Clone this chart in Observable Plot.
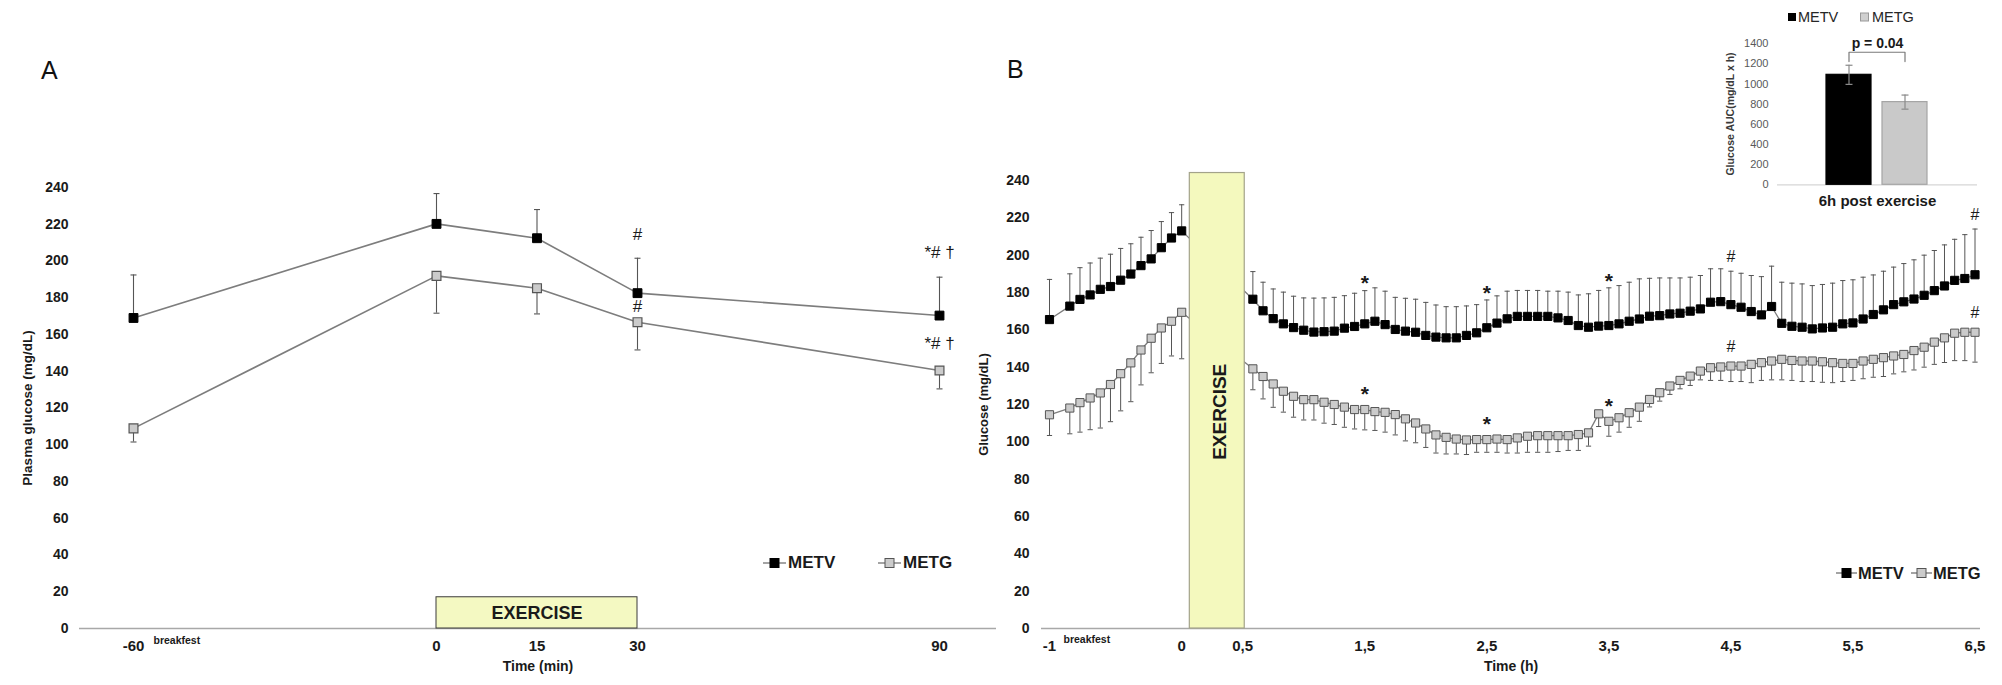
<!DOCTYPE html>
<html>
<head>
<meta charset="utf-8">
<script src="https://cdn.jsdelivr.net/npm/d3@7"></script>
<script src="https://cdn.jsdelivr.net/npm/@observablehq/plot@0.6"></script>
<style>
html,body{margin:0;padding:0;background:#fff;}
#root{position:relative;width:2002px;height:685px;overflow:hidden;background:#fff;font-family:"Liberation Sans",Arial,sans-serif;}
#root svg{overflow:visible;}
.lg{position:absolute;display:flex;align-items:center;height:18px;white-space:nowrap;}
.panel{position:absolute;font-size:25px;line-height:25px;color:#111;}
</style>
</head>
<body>
<div id="root"></div>
<script>
// ---------------- Panel A data (plasma glucose, mg/dL) ----------------
const timeA = [-60, 0, 15, 30, 90];
const timeALabels = ["-60", "0", "15", "30", "90"];
const metvA = [169, 220.2, 212.4, 182.5, 170.3];
const metvSdA = [23.4, 16.5, 15.6, 19, 20.9];
const metgA = [108.9, 191.9, 185.2, 166.7, 140.4];
const metgSdA = [7.4, 20.3, 14, 15.1, 10];
const glucoseTicks = [0, 20, 40, 60, 80, 100, 120, 140, 160, 180, 200, 220, 240];
const annA = [
  {series: "METV", t: 30, text: "#"},
  {series: "METG", t: 30, text: "#"},
  {series: "METV", t: 90, text: "*# †"},
  {series: "METG", t: 90, text: "*# †"}
];
const exerciseA = [{x1: 0, x2: 30, y1: 0, y2: 17, label: "EXERCISE"}];

// ---------------- Panel B data (CGM glucose, every 5 min) ----------------
const timeB = [-60, -55, -50, -45, -40, -35, -30, -25, -20, -15, -10, -5, 0,
  35, 40, 45, 50, 55, 60, 65, 70, 75, 80,
  85, 90, 95, 100, 105, 110, 115, 120, 125, 130,
  135, 140, 145, 150, 155, 160, 165, 170, 175, 180,
  185, 190, 195, 200, 205, 210, 215, 220, 225, 230,
  235, 240, 245, 250, 255, 260, 265, 270, 275, 280,
  285, 290, 295, 300, 305, 310, 315, 320, 325, 330,
  335, 340, 345, 350, 355, 360, 365, 370, 375, 380,
  385, 390];
const metvB = [165.5, 172.7, 176.3, 178.7, 181.7, 183.2, 186.6, 189.9, 194.4, 198, 204, 209.2, 213,
  176.4, 170.2, 166, 163.2, 161.2, 159.8, 158.8, 159, 159.3, 160.9,
  161.8, 163.2, 164.6, 162.8, 160.2, 159.3, 158.7, 157, 156.1, 155.7,
  155.7, 157, 158.4, 161.1, 163.6, 165.9, 167.2, 167.2, 167.2, 167.2,
  166.4, 165, 162.3, 161.4, 162, 162.3, 163.2, 164.6, 165.8, 167.3,
  167.6, 168.5, 168.9, 170, 171.2, 174.8, 175.1, 173.5, 172.1, 169.8,
  168, 172.5, 163.5, 161.9, 161.4, 160.5, 161, 161.4, 163.2, 163.7,
  165.8, 168.2, 170.7, 173.5, 175, 176.5, 178.5, 181, 183.5, 186.5,
  187.5, 189.5];
const metvSdB = [21.5, 17.3, 17, 17.1, 16.7, 17.3, 17, 16.2, 15.2, 15.2, 14, 13.6, 14,
  14.8, 15.3, 15.9, 17, 16.8, 17.3, 18.2, 18.1, 18.1, 17.4,
  17.8, 17.8, 17.9, 17.9, 17.2, 17.6, 17.7, 17.7, 17.2, 16.7,
  16.7, 15.8, 15.1, 14.9, 14.6, 14.8, 13.9, 13.9, 13.9, 13.5,
  14.3, 15.2, 16.4, 17.9, 19.1, 20.2, 20.5, 20.9, 21.5, 20.3,
  20.2, 19.3, 18.9, 18.2, 17.9, 17.9, 17.6, 17.9, 18.2, 19.3,
  20.5, 21.6, 22, 23.1, 23.2, 23.2, 23.3, 23.6, 23.2, 23.1,
  22.4, 21.2, 20.7, 20.1, 20.5, 21, 21.5, 21.5, 22, 22,
  23.5, 24.5];
const metgB = [114.5, 118.1, 121, 123.5, 126.2, 130.7, 136.5, 142.3, 149.2, 155.5, 161, 164.6, 169.4,
  139.1, 135, 131, 127.1, 124.4, 122.6, 122.6, 121.2, 120, 118.6,
  117.3, 117.3, 116.2, 115.8, 114.6, 112.3, 110.1, 106.9, 103.7, 102.4,
  101.5, 101, 101.2, 101.2, 101.5, 101.2, 102.1, 103, 103.3, 103.3,
  103.3, 103.3, 103.9, 104.8, 115, 111, 112.9, 115.6, 118.6, 122.7,
  126.3, 129.9, 132.9, 135.2, 137.9, 139.7, 140.1, 140.6, 140.6, 141.5,
  142.4, 143.3, 144.2, 143.6, 143.3, 143.3, 142.9, 142.4, 142, 142,
  143.3, 144.2, 145.1, 146, 146.8, 148.9, 150.7, 153.4, 155.7, 158.2,
  158.7, 158.7];
const metgSdB = [11.1, 13.8, 15.8, 17, 18.8, 19.9, 19.9, 20.8, 18.7, 18.5, 19, 18.6, 24.9,
  11.2, 12, 12.5, 11.2, 11.2, 10.9, 10.9, 11.2, 10.7, 10.8,
  10.4, 10.9, 10.1, 10.6, 10.9, 11.8, 10.6, 9.9, 9.7, 8.9,
  8, 7.8, 6.8, 6.8, 7.1, 7.2, 8.1, 8.6, 8.9, 8.9,
  8.5, 7.9, 8.5, 7.1, 6.8, 8, 7.7, 7.8, 7.6, 4,
  4.5, 4.5, 4.5, 5, 4.7, 6.8, 7.2, 8.3, 8.3, 9.8,
  9.5, 10.1, 11, 10.7, 11, 11, 11, 10.7, 9.7, 9.1,
  9.5, 9.6, 10.1, 9.6, 9.3, 10.4, 10.7, 11.9, 13.2, 14.7,
  15.2, 16];
const timeBTicks = [-60, 0, 30, 90, 150, 210, 270, 330, 390];
const timeBLabels = ["-1", "0", "0,5", "1,5", "2,5", "3,5", "4,5", "5,5", "6,5"];
const annB = [
  {series: "METV", t: 90, text: "*"}, {series: "METV", t: 150, text: "*"}, {series: "METV", t: 210, text: "*"},
  {series: "METV", t: 270, text: "#"}, {series: "METV", t: 390, text: "#"},
  {series: "METG", t: 90, text: "*"}, {series: "METG", t: 150, text: "*"}, {series: "METG", t: 210, text: "*"},
  {series: "METG", t: 270, text: "#"}, {series: "METG", t: 390, text: "#"}
];
const exerciseB = [{x1: 4, x2: 31, y1: 0, y2: 244, label: "EXERCISE"}];

// ---------------- Inset (AUC) data ----------------
const aucGroups = ["METV", "METG"];
const aucMeans = [1092, 821];
const aucErr = [95, 70];
const aucTicks = [0, 200, 400, 600, 800, 1000, 1200, 1400];
const pBracket = [1224, 1316];
const pLabel = "p = 0.04";

const seriesNames = ["METV", "METG"];

// ---------------- styles ----------------
const SANS = "'Liberation Sans', Arial, sans-serif";
const NARROW = "'Liberation Sans Narrow', 'Arial Narrow', 'Liberation Sans', Arial, sans-serif";
const METV_FILL = "#000000", METV_STROKE = "#000000";
const METG_FILL = "#cbcbcb", METG_STROKE = "#555555";
const LINE = "#7d7d7d", ERR = "#555555";
const cap = {draw(ctx, size) { const w = Math.sqrt(size / Math.PI); ctx.moveTo(-w, 0); ctx.lineTo(w, 0); }};

if ([metvB, metvSdB, metgB, metgSdB].some(a => a.length !== timeB.length)) throw new Error("length mismatch");

const root = document.getElementById("root");
function place(node, left, top) {
  node.style.position = "absolute";
  node.style.left = left + "px";
  node.style.top = top + "px";
  root.appendChild(node);
}

// ================= Panel A =================
const rowsA = timeA.map((t, i) => ({t, metv: metvA[i], metvSd: metvSdA[i], metg: metgA[i], metgSd: metgSdA[i]}));
const byTA = new Map(rowsA.map(d => [d.t, d]));
const annADy = [-24, -16, -25, -27];

const plotA = Plot.plot({
  width: 1000, height: 685,
  marginLeft: 79, marginRight: 4, marginTop: 187, marginBottom: 57,
  style: {background: "transparent", overflow: "visible", fontFamily: SANS, color: "#111"},
  x: {type: "linear", domain: [-60, 0, 30, 90], range: [133, 436, 637, 939]},
  y: {domain: [0, 240], range: [628, 187]},
  marks: [
    Plot.axisY({ticks: glucoseTicks, tickSize: 0, tickPadding: 11, fontSize: 14, fontWeight: "bold", fill: "#1a1a1a", label: null, tickFormat: d => String(d)}),
    Plot.axisX({ticks: timeA, tickSize: 0, tickPadding: 12, fontSize: 15, fontWeight: "bold", fontFamily: NARROW, fill: "#1a1a1a",
      tickFormat: d => timeALabels[timeA.indexOf(d)], label: null}),
    Plot.ruleY([0], {stroke: "#a8a8a8", strokeWidth: 1.4}),
    Plot.rect(exerciseA, {x1: "x1", x2: "x2", y1: "y1", y2: "y2", fill: "#f4f9c2", stroke: "#3a3a3a", strokeWidth: 1}),
    Plot.text(exerciseA, {x: d => (d.x1 + d.x2) / 2, y: d => (d.y1 + d.y2) / 2, text: "label", fontSize: 18, fontWeight: "bold", fill: "#1a1a1a"}),
    // error bars
    Plot.ruleX(rowsA, {x: "t", y1: "metv", y2: d => d.metv + d.metvSd, stroke: ERR, strokeWidth: 1.1}),
    Plot.dot(rowsA, {x: "t", y: d => d.metv + d.metvSd, symbol: cap, r: 3, stroke: ERR, fill: "none", strokeWidth: 1.1}),
    Plot.ruleX(rowsA, {x: "t", y1: d => d.metg - d.metgSd, y2: "metg", stroke: ERR, strokeWidth: 1.1}),
    Plot.dot(rowsA, {x: "t", y: d => d.metg - d.metgSd, symbol: cap, r: 3, stroke: ERR, fill: "none", strokeWidth: 1.1}),
    // lines
    Plot.line(rowsA, {x: "t", y: "metv", stroke: LINE, strokeWidth: 1.6}),
    Plot.line(rowsA, {x: "t", y: "metg", stroke: LINE, strokeWidth: 1.6}),
    // markers
    Plot.dot(rowsA, {x: "t", y: "metv", symbol: "square", r: 5, fill: METV_FILL, stroke: METV_STROKE, strokeWidth: 1}),
    Plot.dot(rowsA, {x: "t", y: "metg", symbol: "square", r: 5, fill: METG_FILL, stroke: METG_STROKE, strokeWidth: 1.2}),
    // annotations
    ...annA.map((a, i) => Plot.text([a], {
      x: "t",
      y: d => d.series === "METV" ? byTA.get(d.t).metv + byTA.get(d.t).metvSd : byTA.get(d.t).metg,
      text: "text", dy: annADy[i], fontSize: 17, fill: "#1a1a1a"
    })),
    // breakfast note
    Plot.text(["breakfest"], {x: () => timeA[0], frameAnchor: "bottom", lineAnchor: "middle", text: d => d, textAnchor: "start", dx: 20, dy: 12, fontSize: 10.5, fontWeight: "bold", fill: "#1a1a1a"}),
    // titles
    Plot.text(["Plasma glucose (mg/dL)"], {frameAnchor: "left", text: d => d, textAnchor: "middle", rotate: -90, dx: -52, fontSize: 13.5, fontWeight: "bold", fill: "#1a1a1a"}),
    Plot.text(["Time (min)"], {frameAnchor: "bottom", lineAnchor: "middle", text: d => d, dy: 38, fontSize: 14, fontWeight: "bold", fontFamily: NARROW, fill: "#1a1a1a"})
  ]
});
place(plotA, 0, 0);

// ================= Panel B =================
const rowsB = timeB.map((t, i) => ({t, metv: metvB[i], metvSd: metvSdB[i], metg: metgB[i], metgSd: metgSdB[i]}));
const byTB = new Map(rowsB.map(d => [d.t, d]));
const annBDy = {"METV*": -7, "METV#": -14, "METG*": -15, "METG#": -19};

const plotB = Plot.plot({
  width: 1042, height: 685,
  marginLeft: 81, marginRight: 22, marginTop: 180, marginBottom: 57,
  style: {background: "transparent", overflow: "visible", fontFamily: SANS, color: "#111"},
  x: {type: "linear", domain: [-60, -55, 390], range: [89, 109.3, 1014.5]},
  y: {domain: [0, 240], range: [628, 180]},
  marks: [
    Plot.axisY({ticks: glucoseTicks, tickSize: 0, tickPadding: 12, fontSize: 14, fontWeight: "bold", fill: "#1a1a1a", label: null, tickFormat: d => String(d)}),
    Plot.axisX({ticks: timeBTicks, tickSize: 0, tickPadding: 12, fontSize: 15, fontWeight: "bold", fontFamily: NARROW, fill: "#1a1a1a",
      tickFormat: d => timeBLabels[timeBTicks.indexOf(d)], label: null}),
    Plot.ruleY([0], {stroke: "#a8a8a8", strokeWidth: 1.4}),
    // error bars
    Plot.ruleX(rowsB, {x: "t", y1: "metv", y2: d => d.metv + d.metvSd, stroke: ERR, strokeWidth: 1}),
    Plot.dot(rowsB, {x: "t", y: d => d.metv + d.metvSd, symbol: cap, r: 2.6, stroke: ERR, fill: "none", strokeWidth: 1}),
    Plot.ruleX(rowsB, {x: "t", y1: d => d.metg - d.metgSd, y2: "metg", stroke: ERR, strokeWidth: 1}),
    Plot.dot(rowsB, {x: "t", y: d => d.metg - d.metgSd, symbol: cap, r: 2.6, stroke: ERR, fill: "none", strokeWidth: 1}),
    // lines
    Plot.line(rowsB, {x: "t", y: "metv", stroke: LINE, strokeWidth: 1.3}),
    Plot.line(rowsB, {x: "t", y: "metg", stroke: LINE, strokeWidth: 1.3}),
    // markers
    Plot.dot(rowsB, {x: "t", y: "metv", symbol: "square", r: 4.6, fill: METV_FILL, stroke: METV_STROKE, strokeWidth: 1}),
    Plot.dot(rowsB, {x: "t", y: "metg", symbol: "square", r: 4.6, fill: METG_FILL, stroke: METG_STROKE, strokeWidth: 1}),
    // exercise block (drawn over the connecting line)
    Plot.rect(exerciseB, {x1: "x1", x2: "x2", y1: "y1", y2: "y2", fill: "#f4f9be", stroke: "#a3a38a", strokeWidth: 1.2}),
    Plot.text(exerciseB, {x: d => (d.x1 + d.x2) / 2, y: d => (d.y1 + d.y2) / 2, text: "label", rotate: -90, dx: 3, dy: 11, fontSize: 19, fontWeight: "bold", fill: "#1a1a1a"}),
    // annotations
    ...annB.map(a => Plot.text([a], {
      x: "t",
      y: d => d.series === "METV" ? byTB.get(d.t).metv + byTB.get(d.t).metvSd : byTB.get(d.t).metg,
      text: "text", dy: annBDy[a.series + a.text], fontSize: a.text === "*" ? 21 : 16,
      fontWeight: a.text === "*" ? "bold" : "normal", fill: "#1a1a1a"
    })),
    Plot.text(["breakfest"], {x: () => timeB[0], frameAnchor: "bottom", lineAnchor: "middle", text: d => d, textAnchor: "start", dx: 14, dy: 11, fontSize: 10.5, fontWeight: "bold", fill: "#1a1a1a"}),
    Plot.text(["Glucose (mg/dL)"], {frameAnchor: "left", text: d => d, textAnchor: "middle", rotate: -90, dx: -58, fontSize: 13, fontWeight: "bold", fill: "#1a1a1a"}),
    Plot.text(["Time (h)"], {frameAnchor: "bottom", lineAnchor: "middle", text: d => d, dy: 38, fontSize: 14, fontWeight: "bold", fontFamily: NARROW, fill: "#1a1a1a"})
  ]
});
place(plotB, 960, 0);

// ================= Inset (AUC bars) =================
const aucRows = aucGroups.map((g, i) => ({group: g, mean: aucMeans[i], err: aucErr[i]}));
const aucFill = {METV: "#000000", METG: "#c9c9c9"};
const aucStroke = {METV: "#000000", METG: "#a5a5a5"};
const bracketPts = [
  {group: aucGroups[0], y: pBracket[0]}, {group: aucGroups[0], y: pBracket[1]},
  {group: aucGroups[1], y: pBracket[1]}, {group: aucGroups[1], y: pBracket[0]}
];
const plotC = Plot.plot({
  width: 300, height: 215,
  marginLeft: 77, marginRight: 23, marginTop: 43, marginBottom: 31,
  style: {background: "transparent", overflow: "visible", fontFamily: SANS, color: "#111"},
  x: {type: "band", domain: aucGroups, range: [126, 228], paddingInner: 0.195, paddingOuter: 0, axis: null},
  y: {domain: [0, 1400], range: [184.3, 43.3]},
  color: {type: "identity"},
  marks: [
    Plot.axisY({ticks: aucTicks, tickSize: 0, tickPadding: 9, fontSize: 11, fill: "#595959", label: null, tickFormat: d => String(d)}),
    Plot.ruleY([0], {stroke: "#d6d6d6", strokeWidth: 1.2}),
    Plot.barY(aucRows, {x: "group", y: "mean", fill: d => aucFill[d.group], stroke: d => aucStroke[d.group], strokeWidth: 1.2}),
    Plot.ruleX(aucRows, {x: "group", y1: d => d.mean - d.err, y2: d => d.mean + d.err, stroke: "#8a8a8a", strokeWidth: 1.2}),
    Plot.dot(aucRows, {x: "group", y: d => d.mean - d.err, symbol: cap, r: 3.5, stroke: "#8a8a8a", fill: "none", strokeWidth: 1.2}),
    Plot.dot(aucRows, {x: "group", y: d => d.mean + d.err, symbol: cap, r: 3.5, stroke: "#8a8a8a", fill: "none", strokeWidth: 1.2}),
    Plot.line(bracketPts, {x: "group", y: "y", stroke: "#7a7a7a", strokeWidth: 1.2}),
    Plot.text([pLabel], {y: () => pBracket[1], text: d => d, lineAnchor: "bottom", dy: -4, fontSize: 14, fontWeight: "bold", fill: "#1a1a1a"}),
    Plot.text(["Glucose AUC(mg/dL x h)"], {frameAnchor: "left", text: d => d, textAnchor: "middle", rotate: -90, dx: -47, fontSize: 10.5, fontWeight: "bold", fill: "#3a3a3a"}),
    Plot.text(["6h post exercise"], {frameAnchor: "bottom", lineAnchor: "middle", text: d => d, dy: 17, fontSize: 15, fontWeight: "bold", fill: "#1a1a1a"})
  ]
});
place(plotC, 1700, 0);

// ================= HTML legends & panel letters =================
function addLegend(items) {
  for (const it of items) {
    const div = document.createElement("div");
    div.className = "lg";
    div.style.left = it.left + "px";
    div.style.top = (it.cy - 9) + "px";
    const w = it.w, s = it.s;
    const line = it.line ? `<line x1="0" x2="${w}" y1="7" y2="7" stroke="${LINE}" stroke-width="1.4"/>` : "";
    div.innerHTML = `<svg width="${w}" height="14" style="overflow:visible">${line}<rect x="${(w - s) / 2}" y="${7 - s / 2}" width="${s}" height="${s}" fill="${it.fill}" stroke="${it.stroke}" stroke-width="1"/></svg>` +
      `<span style="margin-left:${it.gap}px;font-size:${it.fs}px;font-weight:${it.fw};color:${it.color};">${it.label}</span>`;
    root.appendChild(div);
  }
}
addLegend([
  {label: seriesNames[0], left: 763, cy: 563, w: 23, s: 9, gap: 2, line: true, fill: METV_FILL, stroke: METV_STROKE, fs: 17, fw: "bold", color: "#1a1a1a"},
  {label: seriesNames[1], left: 878, cy: 563, w: 23, s: 9, gap: 2, line: true, fill: METG_FILL, stroke: METG_STROKE, fs: 17, fw: "bold", color: "#1a1a1a"},
  {label: seriesNames[0], left: 1836, cy: 573, w: 21, s: 9, gap: 1, line: true, fill: METV_FILL, stroke: METV_STROKE, fs: 16.5, fw: "bold", color: "#1a1a1a"},
  {label: seriesNames[1], left: 1911, cy: 573, w: 21, s: 9, gap: 1, line: true, fill: METG_FILL, stroke: METG_STROKE, fs: 16.5, fw: "bold", color: "#1a1a1a"},
  {label: seriesNames[0], left: 1788, cy: 17, w: 8, s: 7, gap: 2, line: false, fill: "#000", stroke: "#000", fs: 14.5, fw: "normal", color: "#262626"},
  {label: seriesNames[1], left: 1860, cy: 17, w: 9, s: 8, gap: 3, line: false, fill: "#d0d0d0", stroke: "#999", fs: 14.5, fw: "normal", color: "#262626"}
]);

for (const [txt, left, top] of [["A", 41, 58], ["B", 1007, 57]]) {
  const d = document.createElement("div");
  d.className = "panel";
  d.textContent = txt;
  d.style.left = left + "px";
  d.style.top = top + "px";
  root.appendChild(d);
}
</script>
</body>
</html>
